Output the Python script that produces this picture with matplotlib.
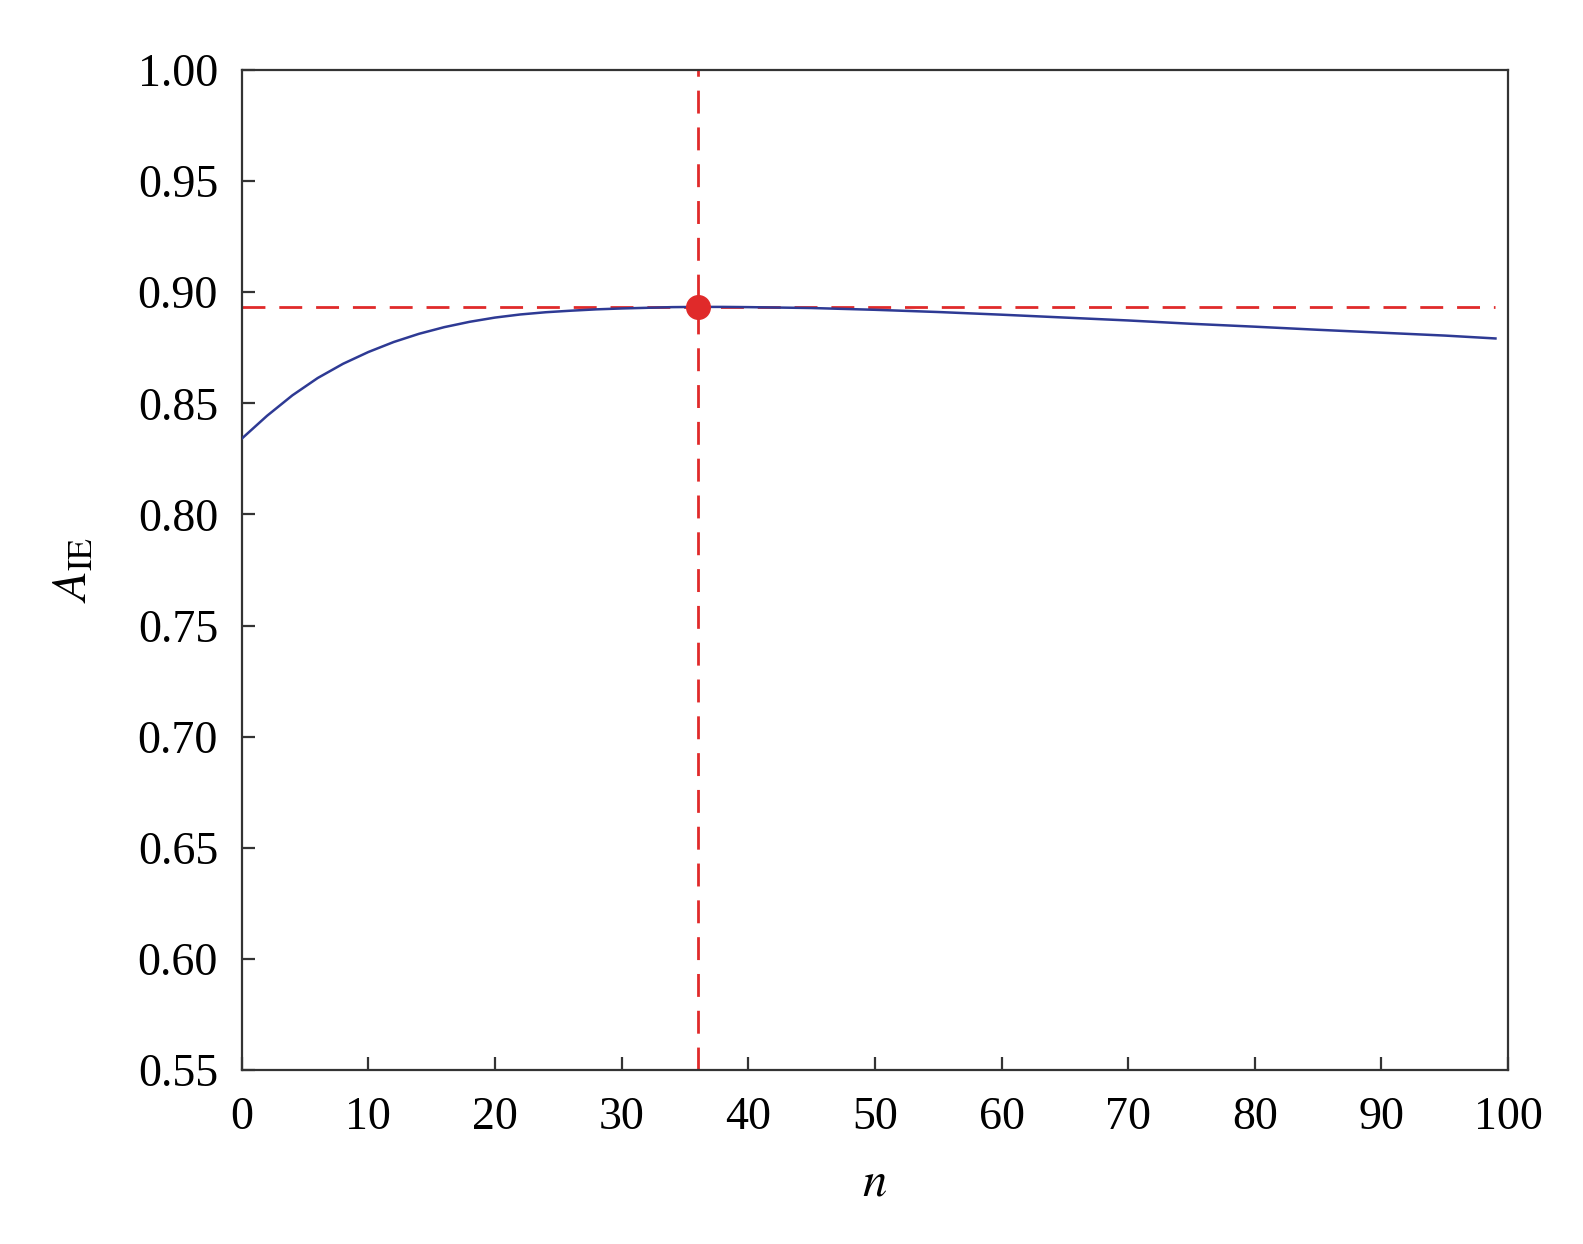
import matplotlib
matplotlib.use("Agg")
import matplotlib.pyplot as plt

plt.rcParams['font.family'] = ['Liberation Serif', 'DejaVu Serif']
plt.rcParams['mathtext.fontset'] = 'stix'
plt.rcParams['lines.scale_dashes'] = False

# Data
n_vals = [0, 2, 4, 6, 8, 10, 12, 14, 16, 18, 20, 22, 24, 26, 28, 30, 32, 34,
          36, 38, 40, 45, 50, 55, 60, 65, 70, 75, 80, 85, 90, 95, 99]
a_ie = [0.8341, 0.8444, 0.8536, 0.8614, 0.8678, 0.8731, 0.8776, 0.8813,
        0.8843, 0.8867, 0.8886, 0.8900, 0.8910, 0.8917, 0.8923, 0.8927,
        0.8930, 0.8933, 0.8934, 0.8934, 0.8933, 0.8929, 0.8921, 0.8911,
        0.8899, 0.8886, 0.8873, 0.8858, 0.8845, 0.8831, 0.8818, 0.8805,
        0.8792]
opt_n = 36
opt_a = 0.8934
x_ticks = [0, 10, 20, 30, 40, 50, 60, 70, 80, 90, 100]
y_ticks = [0.55, 0.60, 0.65, 0.70, 0.75, 0.80, 0.85, 0.90, 0.95, 1.00]

fig = plt.figure(figsize=(15.83, 12.44), dpi=100)
ax = fig.add_axes([0.1527, 0.1399, 0.80, 0.8038])

red = '#E02A2A'
ax.plot(n_vals, a_ie, color='#2E3A94', lw=1.8, zorder=3)
ax.hlines(opt_a, n_vals[0], n_vals[-1], color=red, lw=2.0,
          linestyles=(0, (16.5, 10)), zorder=2)
ax.axvline(opt_n, color=red, lw=2.0, dashes=(16.5, 10), zorder=2)
ax.plot([opt_n], [opt_a], 'o', color=red, ms=17, zorder=4)

ax.set_xlim(0, 100)
ax.set_ylim(0.55, 1.00)
ax.set_xticks(x_ticks)
ax.set_xticklabels([str(v) for v in x_ticks])
ax.set_yticks(y_ticks)
ax.set_yticklabels([f"{v:.2f}" for v in y_ticks])

for s in ax.spines.values():
    s.set_color('#333333')
    s.set_linewidth(1.6)
ax.tick_params(direction='in', length=9.5, width=1.6, color='#333333',
               labelsize=33, pad=17, top=False, right=False)
ax.tick_params(axis='x', pad=19)

ax.set_xlabel(r'$n$', fontsize=35, labelpad=16)
ax.set_ylabel(r'$A_{\mathrm{IE}}$', fontsize=35, labelpad=30)

fig.savefig('out.png', dpi=100, facecolor='white')
